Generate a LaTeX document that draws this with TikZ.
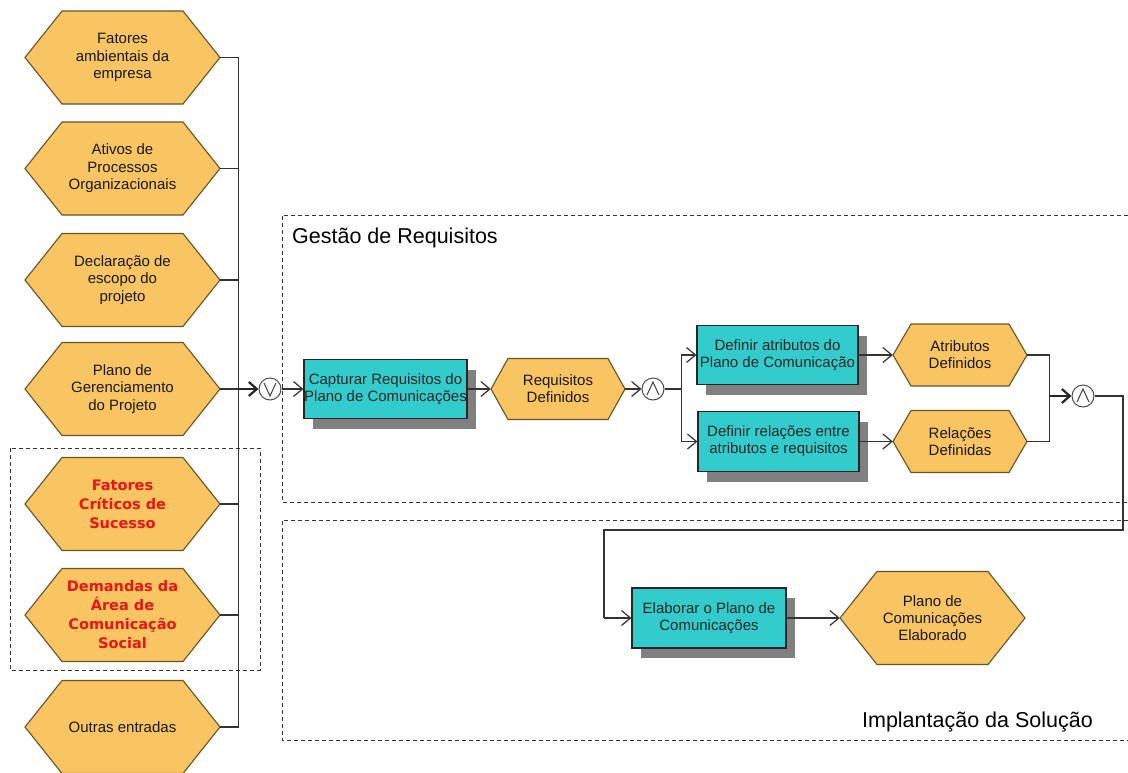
\documentclass[tikz,border=0pt]{standalone}
\usepackage{fontspec}
\setmainfont{Liberation Sans}
\newfontfamily\dvs{DejaVu Sans}
\usetikzlibrary{arrows.meta,shadows}
\definecolor{hexfill}{RGB}{249,196,98}
\definecolor{hexline}{RGB}{100,84,40}
\definecolor{boxfill}{RGB}{51,204,204}
\definecolor{redtxt}{RGB}{236,20,20}
\tikzset{
  hexshape/.style={draw=hexline, fill=hexfill, line width=1.1pt, line join=miter},
  hextext/.style={inner sep=0pt, align=center, text=black!90,
    font=\fontsize{15pt}{17.5pt}\selectfont},
  hexsmall/.style={inner sep=0pt, align=center, text=black!90,
    font=\fontsize{15pt}{17pt}\selectfont},
  hexred/.style={inner sep=0pt, align=center, text=redtxt,
    font=\dvs\bfseries\fontsize{14.5pt}{19pt}\selectfont},
  fbox/.style={draw=black!85, fill=boxfill, line width=1.2pt, inner sep=0pt,
    align=center, text=black!85, font=\fontsize{15pt}{17pt}\selectfont,
    drop shadow={shadow xshift=9pt, shadow yshift=-10pt, fill=black!50, opacity=1}},
  junc/.style={circle, draw=black!70, fill=white, line width=1pt,
    minimum size=22pt, inner sep=0pt},
  sym/.style={draw=black!75, line width=1pt},
  conn/.style={draw=black!80, line width=1.2pt},
  arr/.style={conn, -{Straight Barb[length=9pt,width=15pt]}},
  thickarr/.style={draw=black!85, line width=2.2pt, -{Straight Barb[length=8pt,width=14pt]}},
  region/.style={draw=black!80, line width=1pt, dash pattern=on 4pt off 3pt},
  title/.style={inner sep=0pt, text=black, font=\fontsize{21.5pt}{24pt}\selectfont}
}
% #1 style, #2 name, #3 cx, #4 cy, #5 half width, #6 half height, #7 slant, #8 text
\newcommand\hexa[8]{%
  \draw[hexshape] ({#3-#5},#4) -- ({#3-#5+#7},{#4-#6}) -- ({#3+#5-#7},{#4-#6})
    -- ({#3+#5},#4) -- ({#3+#5-#7},{#4+#6}) -- ({#3-#5+#7},{#4+#6}) -- cycle;
  \node[#1, minimum width={2*#5}, minimum height={2*#6}] (#2) at (#3,#4) {#8};
}
\begin{document}
\begin{tikzpicture}[x=1pt,y=-1pt]
\useasboundingbox (0,0) rectangle (1128,772);
\fill[white] (0,0) rectangle (1128,772);

% regions
\draw[region] (1128,215) -- (282,215) -- (282,502) -- (1128,502);
\draw[region] (1128,520) -- (282,520) -- (282,740) -- (1128,740);
\draw[region] (10,448) rectangle (260,670);
\node[title, anchor=base west] (tg) at (292,243) {Gestão de Requisitos};
\node[title, anchor=base east] (ti) at (1093,727) {Implantação da Solução};

% left inputs
\hexa{hextext}{h1}{122.5}{57.5}{97.5}{46.5}{37}{Fatores\\ambientais da\\empresa}
\hexa{hextext}{h2}{122.5}{168.5}{97.5}{46.5}{37}{Ativos de\\Processos\\Organizacionais}
\hexa{hextext}{h3}{122.5}{280}{97.5}{46.5}{37}{Declaração de\\escopo do\\projeto}
\hexa{hextext}{h4}{122.5}{389}{97.5}{46.5}{37}{Plano de\\Gerenciamento\\do Projeto}
\hexa{hexred}{h5}{122.5}{504}{97.5}{46.5}{37}{Fatores\\Críticos de\\Sucesso}
\hexa{hexred}{h6}{122.5}{615}{97.5}{46.5}{37}{Demandas da\\Área de\\Comunicação\\Social}
\hexa{hextext}{h7}{122.5}{727}{97.5}{46.5}{37}{Outras entradas}

% junctions
\node[junc] (j1) at (270,389) {};
\node[junc] (j2) at (653,389) {};
\node[junc] (j3) at (1083,396) {};
\draw[sym] ([xshift=-6pt,yshift=6pt]j1.center) -- ([yshift=-7pt]j1.center) -- ([xshift=6pt,yshift=6pt]j1.center);
\draw[sym] ([xshift=-6pt,yshift=-6pt]j2.center) -- ([yshift=7pt]j2.center) -- ([xshift=6pt,yshift=-6pt]j2.center);
\draw[sym] ([xshift=-6pt,yshift=-6pt]j3.center) -- ([yshift=7pt]j3.center) -- ([xshift=6pt,yshift=-6pt]j3.center);

% functions
\node[fbox, minimum width=163pt, minimum height=59pt] (cap) at (385.5,389) {Capturar Requisitos do\\Plano de Comunicações};
\node[fbox, minimum width=161pt, minimum height=59pt] (atr) at (777.5,355) {Definir atributos do\\Plano de Comunicação};
\node[fbox, minimum width=161pt, minimum height=60pt] (rel) at (778.5,441.5) {Definir relações entre\\atributos e requisitos};
\node[fbox, minimum width=154pt, minimum height=60pt] (ela) at (709,618) {Elaborar o Plano de\\Comunicações};

% events
\hexa{hexsmall}{req}{558}{389}{67}{30.5}{17}{Requisitos\\Definidos}
\hexa{hexsmall}{atrd}{960}{355}{67}{31}{18}{Atributos\\Definidos}
\hexa{hexsmall}{reld}{960}{441.5}{67}{31}{18}{Relações\\Definidas}
\hexa{hexsmall}{pce}{932.5}{618}{92.5}{46.5}{37}{Plano de\\Comunicações\\Elaborado}

% input bus
\draw[conn] (h1.east) -- ++(18,0) coordinate (b1) -- (b1 |- h7.east) -- (h7.east);
\draw[conn] (h2.east) -- (h2.east -| b1);
\draw[conn] (h3.east) -- (h3.east -| b1);
\draw[conn] (h4.east) -- (h4.east -| b1) coordinate (b4);
\draw[conn] (h5.east) -- (h5.east -| b1);
\draw[conn] (h6.east) -- (h6.east -| b1);
\draw[thickarr] (b4) -- (j1.west);

% flow
\draw[arr] (j1.east) -- (cap.west);
\draw[arr] (cap.east) -- (req.west);
\draw[arr] (req.east) -- (j2.west);
\draw[conn] (j2.east) -- ++(17,0) coordinate (s1);
\draw[arr] (s1) |- (atr.west);
\draw[arr] (s1) |- (rel.west);
\draw[arr] (atr.east) -- (atrd.west);
\draw[arr] (rel.east) -- (reld.west);
\draw[conn] (atrd.east) -- ++(22,0) coordinate (m1) -- (m1 |- reld.east) -- (reld.east);
\draw[thickarr] (m1 |- j3.west) -- (j3.west);
\draw[conn] (j3.east) -- (1123,396) coordinate (c1) -- (1123,530) coordinate (c2) -- (604,530) coordinate (c3) -- (c3 |- ela.west) coordinate (c4);
\draw[arr] (c4) -- (ela.west);
\draw[arr] (ela.east) -- (pce.west);
\end{tikzpicture}
\end{document}
